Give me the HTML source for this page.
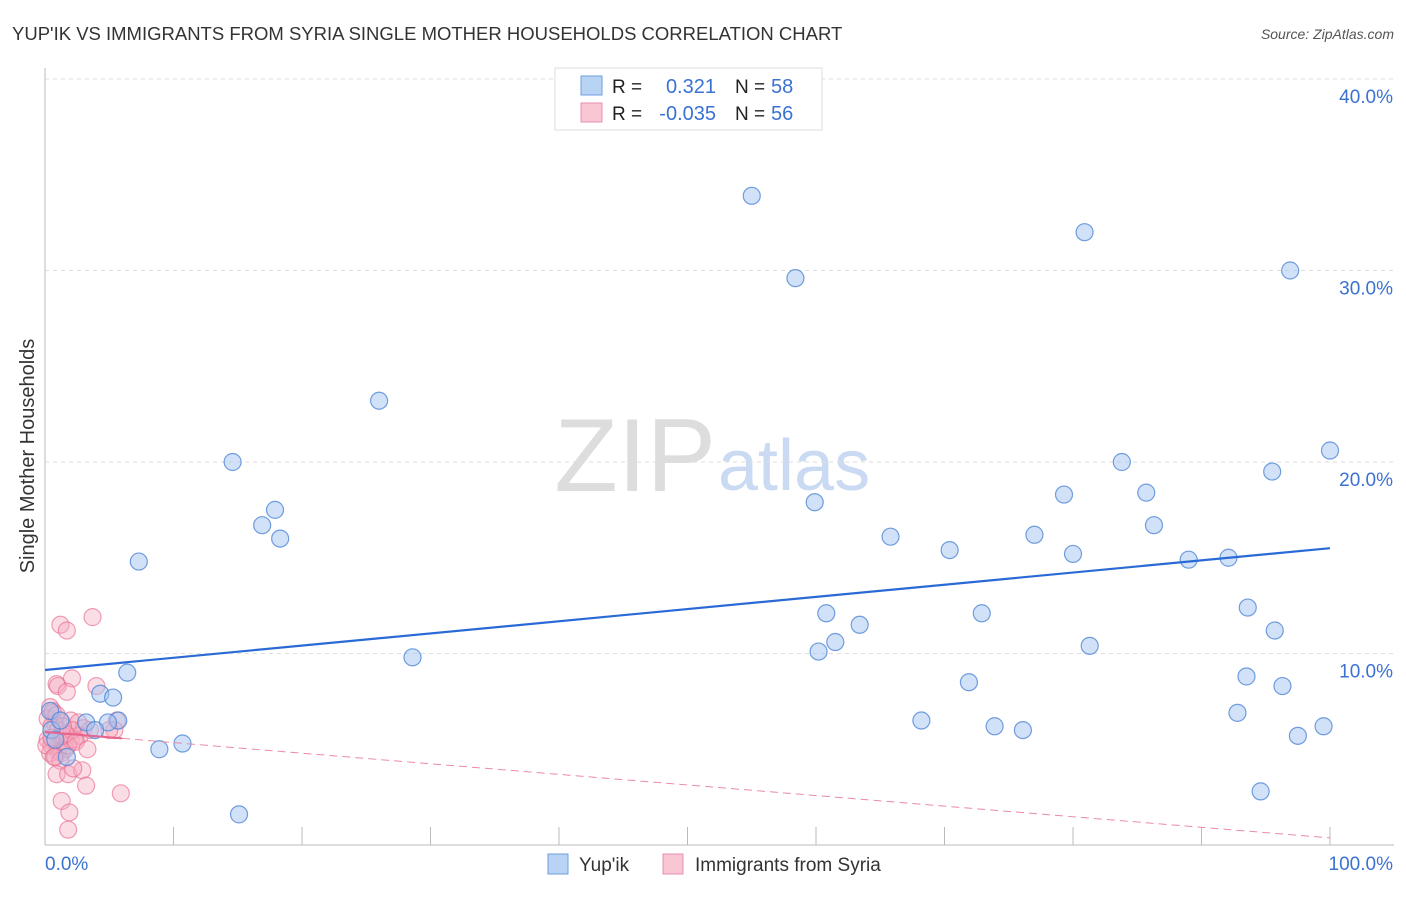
<!DOCTYPE html>
<html><head><meta charset="utf-8"><style>
body{margin:0;background:#fff;font-family:"Liberation Sans",sans-serif;}
svg text{font-family:"Liberation Sans",sans-serif;}
</style></head><body>
<svg id="chart" width="1406" height="892" xmlns="http://www.w3.org/2000/svg">
<text x="12" y="40" font-size="18.5" fill="#333">YUP'IK VS IMMIGRANTS FROM SYRIA SINGLE MOTHER HOUSEHOLDS CORRELATION CHART</text>
<text x="1394" y="39" font-size="14" fill="#555" font-style="italic" text-anchor="end">Source: ZipAtlas.com</text>
<text x="34" y="456" font-size="20" fill="#333" transform="rotate(-90 34 456)" text-anchor="middle">Single Mother Households</text>
<text x="716" y="491" font-size="104" fill="#ddd" text-anchor="end" font-family="Liberation Serif">ZIP</text>
<text x="718" y="490" font-size="72" fill="#c9daf2">atlas</text>
<g id="grid"></g><g id="marks"></g>
<g>
<rect x="555" y="68" width="267" height="62" fill="#fff" stroke="#ddd"/>
<rect x="581" y="76" width="21" height="19" fill="#b9d3f5" stroke="#6e9fdf"/>
<rect x="581" y="103" width="21" height="19" fill="#f9c6d4" stroke="#ec8fa9"/>
<text x="612" y="93" font-size="19" fill="#222">R =</text><text x="716" y="93" font-size="20" fill="#3b72d1" text-anchor="end">0.321</text>
<text x="735" y="93" font-size="19" fill="#222">N =</text><text x="771" y="93" font-size="20" fill="#3b72d1">58</text>
<text x="612" y="120" font-size="19" fill="#222">R =</text><text x="716" y="120" font-size="20" fill="#3b72d1" text-anchor="end">-0.035</text>
<text x="735" y="120" font-size="19" fill="#222">N =</text><text x="771" y="120" font-size="20" fill="#3b72d1">56</text>
</g>
<g>
<rect x="548" y="854" width="20" height="20" fill="#b9d3f5" stroke="#6e9fdf"/>
<text x="579" y="871" font-size="19" fill="#333">Yup'ik</text>
<rect x="663" y="854" width="20" height="20" fill="#f9c6d4" stroke="#ec8fa9"/>
<text x="695" y="871" font-size="19" fill="#333">Immigrants from Syria</text>
</g>
</svg>
<script>
const xTicks=[0,10,20,30,40,50,60,70,80,90,100];
const yTicks=[10,20,30,40];
const blueX=[55.0,80.9,58.4,96.9,26.0,14.6,100,83.8,95.5,17.9,16.9,18.3,79.3,85.7,59.9,86.3,65.8,70.4,77.0,80.0,89.0,92.1,7.3,60.8,72.9,93.6,63.4,95.7,61.5,60.2,81.3,28.6,6.4,71.9,93.5,96.3,4.3,5.3,68.2,92.8,73.9,76.1,99.5,97.5,5.7,4.9,3.2,3.9,8.9,10.7,1.7,15.1,94.6,0.4,0.5,1.2,0.8];
const blueY=[33.9,32.0,29.6,30.0,23.2,20.0,20.6,20.0,19.5,17.5,16.7,16.0,18.3,18.4,17.9,16.7,16.1,15.4,16.2,15.2,14.9,15.0,14.8,12.1,12.1,12.4,11.5,11.2,10.6,10.1,10.4,9.8,9.0,8.5,8.8,8.3,7.9,7.7,6.5,6.9,6.2,6.0,6.2,5.7,6.5,6.4,6.4,6.0,5.0,5.3,4.6,1.6,2.8,7.0,6.0,6.5,5.5];
const pinkX=[1.2,1.7,3.7,0.9,1.0,2.1,4.0,1.7,0.4,0.6,0.2,0.8,1.3,2.0,2.6,3.0,3.5,0.2,0.5,1.0,1.5,2.0,1.0,1.3,0.4,1.6,0.1,5.6,5.4,2.7,2.3,1.8,0.8,1.2,0.5,1.0,1.4,2.1,0.9,1.8,2.9,2.2,3.2,5.9,1.3,1.9,1.8,5.0,1.6,0.6,0.9,1.4,0.5,2.4,3.3,0.7];
const pinkY=[11.5,11.2,11.9,8.4,8.3,8.7,8.3,8.0,7.2,6.9,6.6,6.3,6.4,6.5,6.4,6.1,6.0,5.5,5.2,5.1,5.4,5.5,4.9,4.8,4.8,5.0,5.2,6.5,6.0,5.7,5.5,5.2,4.6,4.4,6.2,6.0,5.7,6.0,3.7,3.7,3.9,4.0,3.1,2.7,2.3,1.7,0.8,6.0,5.8,7.0,6.8,6.2,5.6,5.4,5.0,4.6];
const blueTrend=[9.14,15.5];
const pinkTrend=[5.9,0.37];
const X0=45,X1=1330,Y0=845,YS=19.15;
const sx=v=>X0+(X1-X0)*v/100, sy=v=>Y0-v*YS;
const NS="http://www.w3.org/2000/svg";
const grid=document.getElementById('grid'), marks=document.getElementById('marks');
function mk(tag,attrs,parent){const e=document.createElementNS(NS,tag);for(const k in attrs)e.setAttribute(k,attrs[k]);parent.appendChild(e);return e;}
let a=mk('line',{x1:X0,y1:68,x2:X0,y2:Y0,stroke:'#bbb'},grid);


let b=mk('line',{x1:X0,y1:Y0,x2:1394,y2:Y0,stroke:'#bbb'},grid);


yTicks.forEach(t=>{
 const l=mk('line',{x1:X0,y1:sy(t),x2:1394,y2:sy(t),stroke:'#ddd','stroke-dasharray':'4,4'},grid);
 
 
 const tx=mk('text',{x:1393,y:sy(t)+24,'font-size':19,fill:'#3b72d1','text-anchor':'end'},grid);
 tx.textContent=t.toFixed(1)+'%';
 
 
});
xTicks.forEach(t=>{
 const l=mk('line',{x1:sx(t),y1:Y0-18,x2:sx(t),y2:Y0,stroke:'#bbb'},grid);
 
 
});
[[0,'0.0%','start',45],[100,'100.0%','end',1393]].forEach(d=>{
 const tx=mk('text',{x:d[3],y:870,'font-size':19,fill:'#3b72d1','text-anchor':d[2]},grid);
 tx.textContent=d[1];
 
 
});
pinkX.forEach((x,i)=>{
 const c=mk('circle',{cx:sx(x),cy:sy(pinkY[i]),r:8.5,fill:'rgba(246,170,192,0.4)',stroke:'rgba(232,110,145,0.65)','stroke-width':1.2},marks);
 
 
});
blueX.forEach((x,i)=>{
 const c=mk('circle',{cx:sx(x),cy:sy(blueY[i]),r:8.5,fill:'rgba(164,196,240,0.5)',stroke:'rgba(80,135,215,0.8)','stroke-width':1.2},marks);
 
 
});
let bt=mk('line',{x1:sx(0),y1:sy(blueTrend[0]),x2:sx(100),y2:sy(blueTrend[1]),stroke:'#2a6ad6','stroke-width':2.2},marks);


const pAt=v=>pinkTrend[0]+(pinkTrend[1]-pinkTrend[0])*v/100;
let pd=mk('line',{x1:sx(6),y1:sy(pAt(6)),x2:sx(100),y2:sy(pAt(100)),stroke:'#eb8aa6','stroke-width':1,'stroke-dasharray':'8,5'},marks);


let ps=mk('line',{x1:sx(0),y1:sy(pAt(0)),x2:sx(6),y2:sy(pAt(6)),stroke:'#e8648c','stroke-width':2},marks);


</script>
</body></html>
